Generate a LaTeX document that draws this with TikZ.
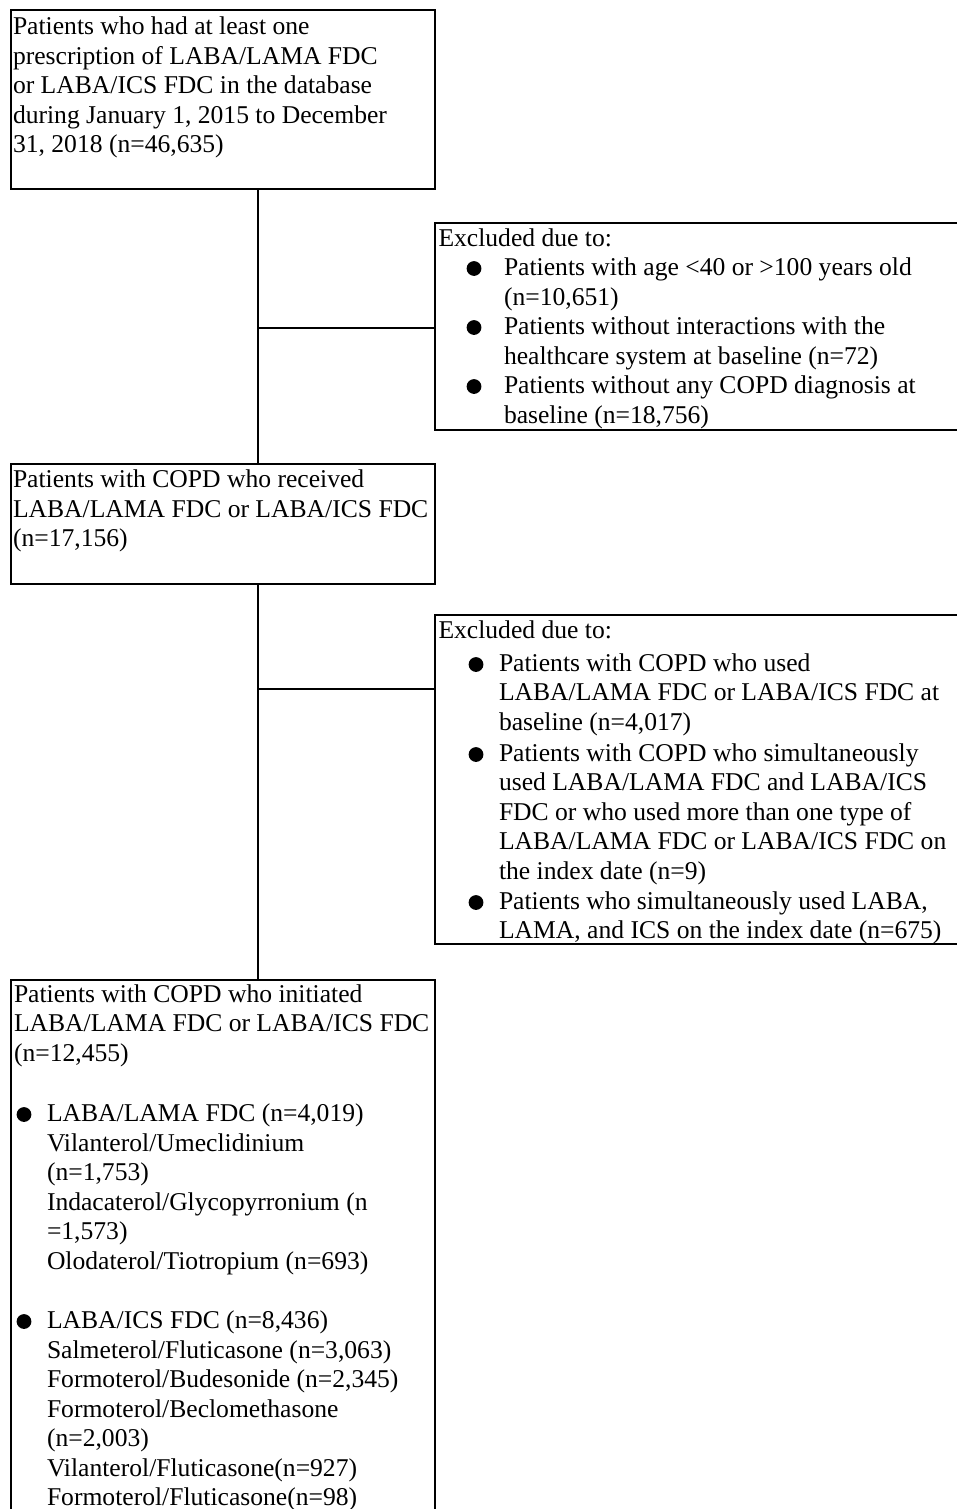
\documentclass[tikz,border=0pt]{standalone}
\usepackage{fontspec}
\setmainfont{Liberation Serif}
\begin{document}
\begin{tikzpicture}[x=1pt,y=-1pt,
  box/.style={draw=black, line width=2pt, rectangle, inner sep=0pt, outer sep=0pt, anchor=north west},
  txt/.style={inner sep=0pt, outer sep=0pt, anchor=north west, align=left, font=\fontsize{25.6}{29.5}\selectfont},
  conn/.style={draw=black, line width=2pt},
  bul/.style={fill=black}]
\useasboundingbox (0,0) rectangle (957,1509);
\fill[white] (0,0) rectangle (957,1509);
\clip (0,0) rectangle (957,1509);
\newcommand\stt{\rule{0pt}{20pt}}
% boxes
\node[box, minimum width=424pt, minimum height=179pt] (b1) at (11,10) {};
\node[box, minimum width=424pt, minimum height=120pt] (b2) at (11,463.5) {};
\node[box, minimum width=424pt, minimum height=700pt] (b3) at (11,979.5) {};
\node[box, minimum width=600pt, minimum height=207pt] (e1) at (435,222.5) {};
\node[box, minimum width=600pt, minimum height=329pt] (e2) at (435,615) {};
% connectors
\coordinate (sp) at (258,0);
\coordinate (j1) at (258,328);
\coordinate (j2) at (258,689);
\draw[conn] (b1.south -| sp) -- (b2.north -| sp);
\draw[conn] (b2.south -| sp) -- (b3.north -| sp);
\draw[conn] (j1) -- (j1 -| e1.west);
\draw[conn] (j2) -- (j2 -| e2.west);
% box 1 text
\node[txt] (t1) at (13,35-20) {\stt Patients who had at least one\\prescription of LABA/LAMA FDC\\or LABA/ICS FDC in the database\\during January 1, 2015 to December\\31, 2018 (n=46,635)};
% box 2 text
\node[txt] (t2) at (13,487.5-20) {\stt Patients with COPD who received\\LABA/LAMA FDC or LABA/ICS FDC\\(n=17,156)};
% exclusion 1
\node[txt] (x1h) at (438.5,246-20) {\stt Excluded due to:};
\node[txt] (x1a) at (504,275.5-20) {\stt Patients with age <40 or >100 years old\\(n=10,651)};
\node[txt] (x1b) at (504,334.5-20) {\stt Patients without interactions with the\\healthcare system at baseline (n=72)};
\node[txt] (x1c) at (504,393.5-20) {\stt Patients without any COPD diagnosis at\\baseline (n=18,756)};
\fill[bul] (474,275.5-7) circle (7.4);
\fill[bul] (474,334.5-7) circle (7.4);
\fill[bul] (474,393.5-7) circle (7.4);
% exclusion 2
\node[txt] (x2h) at (438.5,638-20) {\stt Excluded due to:};
\node[txt] (x2a) at (499,671-20) {\stt Patients with COPD who used\\LABA/LAMA FDC or LABA/ICS FDC at\\baseline (n=4,017)};
\node[txt] (x2b) at (499,761-20) {\stt Patients with COPD who simultaneously\\used LABA/LAMA FDC and LABA/ICS\\FDC or who used more than one type of\\LABA/LAMA FDC or LABA/ICS FDC on\\the index date (n=9)};
\node[txt] (x2c) at (499,909-20) {\stt Patients who simultaneously used LABA,\\LAMA, and ICS on the index date (n=675)};
\fill[bul] (476,671-6.5) circle (7.4);
\fill[bul] (476,761-6.5) circle (7.4);
\fill[bul] (476,909-6.5) circle (7.4);
% box 3 text
\node[txt] (t3) at (14,1002-20) {\stt Patients with COPD who initiated\\LABA/LAMA FDC or LABA/ICS FDC\\(n=12,455)};
\node[txt] (t3a) at (47,1121.5-20) {\stt LABA/LAMA FDC (n=4,019)\\Vilanterol/Umeclidinium\\(n=1,753)\\Indacaterol/Glycopyrronium (n\\=1,573)\\Olodaterol/Tiotropium (n=693)};
\node[txt] (t3b) at (47,1328.5-20) {\stt LABA/ICS FDC (n=8,436)\\Salmeterol/Fluticasone (n=3,063)\\Formoterol/Budesonide (n=2,345)\\Formoterol/Beclomethasone\\(n=2,003)\\Vilanterol/Fluticasone(n=927)\\Formoterol/Fluticasone(n=98)};
\fill[bul] (24,1121.5-7) circle (7.4);
\fill[bul] (24,1328.5-7) circle (7.4);
\end{tikzpicture}
\end{document}
